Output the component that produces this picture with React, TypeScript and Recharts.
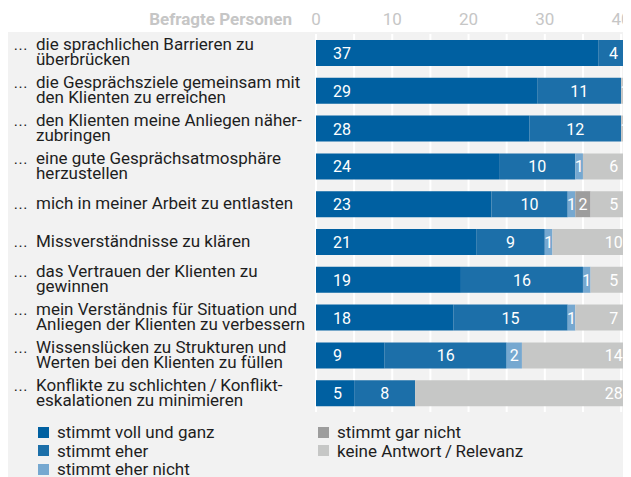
import React from "react";
import { BarChart, Bar, XAxis, YAxis, CartesianGrid, Legend, LabelList } from "recharts";

const categories = [
  "… die sprachlichen Barrieren zu\nüberbrücken",
  "… die Gesprächsziele gemeinsam mit\nden Klienten zu erreichen",
  "… den Klienten meine Anliegen näher-\nzubringen",
  "… eine gute Gesprächsatmosphäre\nherzustellen",
  "… mich in meiner Arbeit zu entlasten",
  "… Missverständnisse zu klären",
  "… das Vertrauen der Klienten zu\ngewinnen",
  "… mein Verständnis für Situation und\nAnliegen der Klienten zu verbessern",
  "… Wissenslücken zu Strukturen und\nWerten bei den Klienten zu füllen",
  "… Konflikte zu schlichten\u2009/\u2009Konflikt-\neskalationen zu minimieren",
];

const stimmtVoll = [37, 29, 28, 24, 23, 21, 19, 18, 9, 5];
const stimmtEher = [4, 11, 12, 10, 10, 9, 16, 15, 16, 8];
const stimmtEherNicht = [0, 0, 0, 1, 1, 1, 1, 1, 2, 0];
const stimmtGarNicht = [0, 0, 0, 0, 2, 0, 0, 0, 0, 0];
const keineAntwort = [0, 1, 1, 6, 5, 10, 5, 7, 14, 28];

const seriesNames = [
  "stimmt voll und ganz",
  "stimmt eher",
  "stimmt eher nicht",
  "stimmt gar nicht",
  "keine Antwort\u2009/\u2009Relevanz",
];

const xTicks = [0, 5, 10, 15, 20, 25, 30, 35, 40];
const xTickLabels = [0, 10, 20, 30, 40];

const data = categories.map((name, i) => ({
  name,
  voll: stimmtVoll[i],
  eher: stimmtEher[i],
  eherNicht: stimmtEherNicht[i],
  garNicht: stimmtGarNicht[i],
  keine: keineAntwort[i],
}));

const W = 623;
const H = 469;
const FONT = "Roboto, 'Noto Sans', sans-serif";

// white value labels inside the stacked segments
const makeLabel = (mode: "start" | "middle" | "end") => (props: any) => {
  const x = Number(props.x);
  const y = Number(props.y);
  const width = Number(props.width);
  const height = Number(props.height);
  const value = props.value;
  if (!value) return null;
  const cx = x + width / 2;
  let tx = cx;
  let anchor = "middle";
  if (mode === "start") {
    tx = x + 17;
    anchor = "start";
  } else if (mode === "end") {
    tx = Math.max(cx, x + width - 15);
  }
  return (
    <text x={tx} y={y + height / 2 + 6} fill="#ffffff" fontSize={16} textAnchor={anchor} fontFamily={FONT}>
      {value}
    </text>
  );
};

const CategoryTick = (props: any) => {
  const { y, payload } = props;
  const lines = String(payload.value).split("\n");
  const first = lines[0].replace(/^…\s*/, "");
  const rest = [first, ...lines.slice(1)];
  const base = Number(y) - (lines.length - 1) * 7.5 + 5;
  return (
    <g>
      <text x={5} y={base} fontSize={15} fill="#1e1e1e" fontFamily="'Liberation Sans', sans-serif">…</text>
      {rest.map((l, i) => (
        <text key={i} x={28} y={base + i * 15} fontSize={17} fill="#1e1e1e" fontFamily={FONT}>
          {l}
        </text>
      ))}
    </g>
  );
};

const TopTick = (props: any) => {
  const { x, payload } = props;
  if (!xTickLabels.includes(payload.value)) return <g />;
  return (
    <text x={x} y={17} textAnchor="middle" fontSize={17} fill="#c6c6c6" fontFamily={FONT}>
      {payload.value}
    </text>
  );
};

const LegendContent = (props: any) => {
  const payload = [...(props.payload || [])].sort(
    (a: any, b: any) => seriesNames.indexOf(a.value) - seriesNames.indexOf(b.value)
  );
  return (
    <div style={{ position: "relative", width: W, height: 65, fontFamily: FONT, fontSize: 17, color: "#1e1e1e" }}>
      {payload.map((p: any, i: number) => {
        const col = i < 3 ? 0 : 1;
        const row = i % 3;
        return (
          <div
            key={i}
            style={{
              position: "absolute",
              left: col ? 310 : 30,
              top: 12 + row * 18.5,
              height: 16,
              lineHeight: "16px",
              display: "flex",
              alignItems: "center",
              whiteSpace: "nowrap",
            }}
          >
            <span style={{ display: "inline-block", width: 11, height: 11, background: p.color, marginRight: 8 }} />
            <span>{p.value}</span>
          </div>
        );
      })}
    </div>
  );
};

export default function App() {
  return (
    <div style={{ position: "relative", width: W, height: H, background: "#ffffff", fontFamily: FONT }}>
      <div style={{ position: "absolute", left: 0, top: 24, width: W, height: H - 24, background: "#f2f2f2" }} />
      <div style={{ position: "relative" }}>
        <BarChart
          width={W}
          height={H}
          data={data}
          layout="vertical"
          margin={{ top: 0, right: 0, bottom: 0, left: 0 }}
          barSize={26}
        >
          <CartesianGrid horizontal={false} vertical stroke="#ffffff" strokeWidth={2} />
          <XAxis
            type="number"
            orientation="top"
            domain={[0, 41.3]}
            ticks={xTicks}
            interval={0}
            height={26}
            axisLine={false}
            tickLine={false}
            tick={TopTick}
          />
          <YAxis
            type="category"
            dataKey="name"
            width={308}
            axisLine={false}
            tickLine={false}
            interval={0}
            tick={CategoryTick}
            label={{
              content: () => (
                <text x={284} y={17} textAnchor="end" fontSize={17} fontWeight={700} fill="#c6c6c6" fontFamily={FONT}>
                  Befragte Personen
                </text>
              ),
            }}
          />
          <Legend
            verticalAlign="bottom"
            align="left"
            content={LegendContent}
            wrapperStyle={{ left: 0, bottom: 0, width: W, height: 65 }}
          />
          <Bar dataKey="voll" name={seriesNames[0]} stackId="a" fill="#0060a1" isAnimationActive={false}>
            <LabelList dataKey="voll" content={makeLabel("start")} />
          </Bar>
          <Bar dataKey="eher" name={seriesNames[1]} stackId="a" fill="#1c6fa9" isAnimationActive={false}>
            <LabelList dataKey="eher" content={makeLabel("middle")} />
          </Bar>
          <Bar dataKey="eherNicht" name={seriesNames[2]} stackId="a" fill="#76a8d0" isAnimationActive={false}>
            <LabelList dataKey="eherNicht" content={makeLabel("middle")} />
          </Bar>
          <Bar dataKey="garNicht" name={seriesNames[3]} stackId="a" fill="#9d9d9d" isAnimationActive={false}>
            <LabelList dataKey="garNicht" content={makeLabel("middle")} />
          </Bar>
          <Bar dataKey="keine" name={seriesNames[4]} stackId="a" fill="#c6c7c6" isAnimationActive={false}>
            <LabelList dataKey="keine" content={makeLabel("end")} />
          </Bar>
        </BarChart>
      </div>
    </div>
  );
}
